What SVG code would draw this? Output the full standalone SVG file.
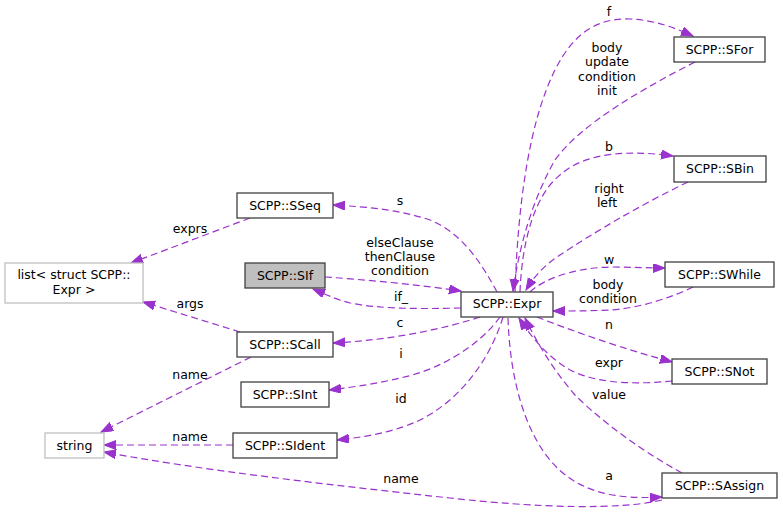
<svg xmlns="http://www.w3.org/2000/svg" width="783" height="513" viewBox="0 0 783 513">
<style>
text{font-family:"DejaVu Sans",sans-serif;font-size:12.5px;fill:#000;text-anchor:middle}
.n rect{fill:#fff;stroke:#404040;stroke-width:1.3}
.g rect{fill:#fff;stroke:#bfbfbf;stroke-width:1.3}
#SIf rect{fill:#bfbfbf}
.e path{fill:none;stroke:#9a32cd;stroke-width:1.2;stroke-dasharray:7,4}
</style>
<defs>
<marker id="ah" markerWidth="13" markerHeight="10" refX="12" refY="4.5" orient="auto" markerUnits="userSpaceOnUse">
<path d="M0,0 L12,4.5 L0,9 z" fill="#9a32cd" stroke="#9a32cd" stroke-width="1"/>
</marker>
</defs>
<rect width="783" height="513" fill="#fff"/>
<g id="edges" class="e">
<path d="M515,292 C518,200 530,120 555,70 C575,30 600,18 630,19 C655,20 675,28 693,36" marker-end="url(#ah)"/>
<path d="M695,62 C640,90 580,125 555,160 C535,195 520,240 513,291" marker-end="url(#ah)"/>
<path d="M520,292 C522,240 535,195 560,175 C585,152 630,150 673,156" marker-end="url(#ah)"/>
<path d="M688,182 C640,205 590,235 560,255 C545,265 535,275 526,290" marker-end="url(#ah)"/>
<path d="M530,292 C545,278 575,268 610,267 C630,267 650,268 665,268" marker-end="url(#ah)"/>
<path d="M693,287 C670,298 640,308 610,310 C590,311 570,311 553,311" marker-end="url(#ah)"/>
<path d="M537,317 C570,330 620,348 672,362" marker-end="url(#ah)"/>
<path d="M672,381 C640,384 600,385 570,370 C545,355 530,335 519,318" marker-end="url(#ah)"/>
<path d="M682,473 C640,450 600,420 575,395 C555,372 538,345 525,318" marker-end="url(#ah)"/>
<path d="M508,318 C510,380 525,430 550,460 C575,490 610,500 662,497" marker-end="url(#ah)"/>
<path d="M662,500 C620,510 540,508 450,498 C330,485 200,470 104,452" marker-end="url(#ah)"/>
<path d="M233,445 L104,445" marker-end="url(#ah)"/>
<path d="M251,357 L101,432" marker-end="url(#ah)"/>
<path d="M240,332 L143,302" marker-end="url(#ah)"/>
<path d="M250,218 L131,263" marker-end="url(#ah)"/>
<path d="M497,292 C480,260 460,232 430,220 C400,210 370,207 333,205" marker-end="url(#ah)"/>
<path d="M325,277 C370,280 420,285 461,291" marker-end="url(#ah)"/>
<path d="M461,308 C420,309 380,309 350,303 C335,299 325,294 313,289" marker-end="url(#ah)"/>
<path d="M480,317 C440,330 390,340 333,343" marker-end="url(#ah)"/>
<path d="M500,317 C480,345 440,370 400,378 C380,383 355,387 329,390" marker-end="url(#ah)"/>
<path d="M503,317 C490,360 460,400 420,420 C395,432 365,437 337,440" marker-end="url(#ah)"/>
</g>
<g id="labels">
<text x="609" y="16">f</text>
<text x="607" y="52">body</text>
<text x="607" y="66">update</text>
<text x="607" y="81">condition</text>
<text x="607" y="95">init</text>
<text x="609" y="151">b</text>
<text x="609" y="193">right</text>
<text x="607" y="207">left</text>
<text x="609" y="264">w</text>
<text x="608" y="289">body</text>
<text x="608" y="303">condition</text>
<text x="609" y="329">n</text>
<text x="609" y="367">expr</text>
<text x="609" y="399">value</text>
<text x="609" y="480">a</text>
<text x="401" y="483">name</text>
<text x="401" y="403">id</text>
<text x="400" y="205">s</text>
<text x="400" y="247">elseClause</text>
<text x="400" y="261">thenClause</text>
<text x="400" y="275">condition</text>
<text x="401" y="301">if_</text>
<text x="400" y="327">c</text>
<text x="401" y="358">i</text>
<text x="190" y="233">exprs</text>
<text x="190" y="308">args</text>
<text x="190" y="379">name</text>
<text x="190" y="441">name</text>
</g>
<g id="SFor" class="n"><rect x="674" y="37" width="91" height="25"/><text x="719.5" y="53.5">SCPP::SFor</text></g>
<g id="SBin" class="n"><rect x="674" y="156" width="92" height="26"/><text x="720" y="173">SCPP::SBin</text></g>
<g id="SWhile" class="n"><rect x="665" y="262" width="109" height="25"/><text x="719.5" y="278.5">SCPP::SWhile</text></g>
<g id="SNot" class="n"><rect x="672" y="359" width="95" height="25"/><text x="719.5" y="375.5">SCPP::SNot</text></g>
<g id="SAssign" class="n"><rect x="662" y="473" width="115" height="25"/><text x="719.5" y="489.5">SCPP::SAssign</text></g>
<g id="Expr" class="n"><rect x="461" y="292" width="92" height="25"/><text x="507" y="308">SCPP::Expr</text></g>
<g id="SSeq" class="n"><rect x="237" y="193" width="96" height="25"/><text x="285" y="209.5">SCPP::SSeq</text></g>
<g id="SIf" class="n"><rect x="245" y="263" width="80" height="25"/><text x="285" y="279.5">SCPP::SIf</text></g>
<g id="list" class="g"><rect x="5" y="263" width="138" height="40"/><text x="74" y="279">list&lt; struct SCPP::</text><text x="74" y="293.5">Expr &gt;</text></g>
<g id="SCall" class="n"><rect x="237" y="332" width="96" height="25"/><text x="285" y="348.5">SCPP::SCall</text></g>
<g id="SInt" class="n"><rect x="241" y="382" width="88" height="25"/><text x="285" y="398.5">SCPP::SInt</text></g>
<g id="SIdent" class="n"><rect x="233" y="433" width="104" height="25"/><text x="285" y="449.5">SCPP::SIdent</text></g>
<g id="string" class="g"><rect x="45" y="433" width="59" height="25"/><text x="74.5" y="449.5">string</text></g>
</svg>
